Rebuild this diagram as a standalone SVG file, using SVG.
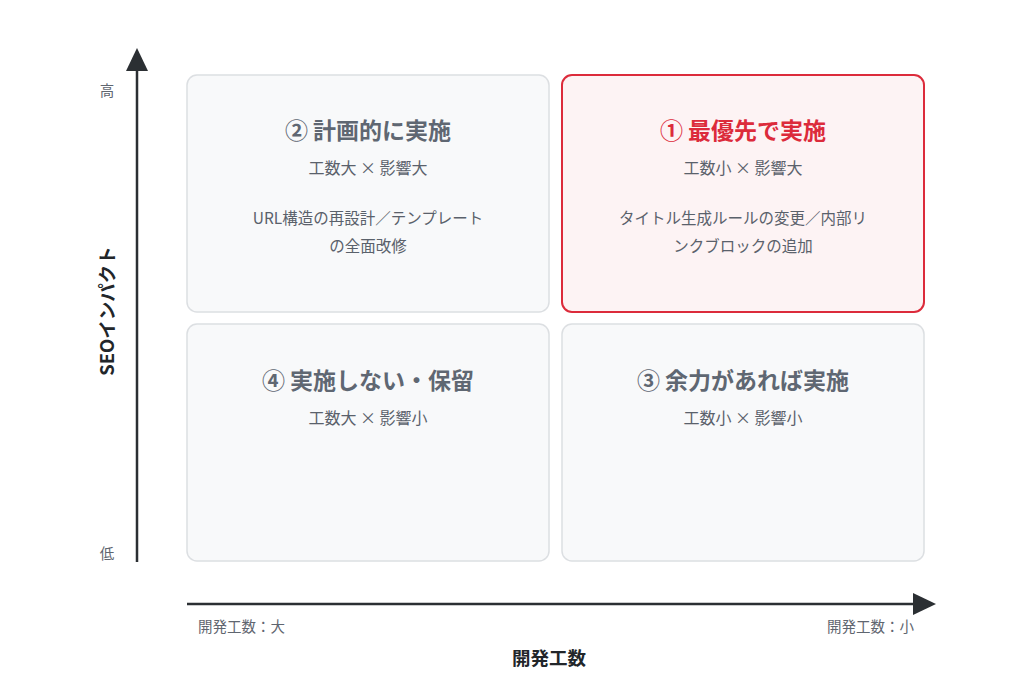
<svg xmlns="http://www.w3.org/2000/svg" width="1024" height="699" viewBox="0 0 1024 699">
<style>
text{font-family:"Noto Sans CJK JP","Noto Sans",sans-serif;}
.box{fill:#f8f9fa;stroke:#dcdfe2;stroke-width:1.5;}
.hot{fill:#fdf3f4;stroke:#dc2b3b;stroke-width:2;}
.t{font-size:23px;font-weight:700;fill:#5f6772;text-anchor:middle;}
.tr{fill:#dc2b3b;}
.s{font-size:16px;fill:#5a616b;text-anchor:middle;}
.d{font-size:15.5px;fill:#5a616b;text-anchor:middle;}
.ax{stroke:#2b2f33;stroke-width:2.5;fill:none;}
.ah{fill:#2b2f33;}
.lab{font-size:14.5px;fill:#5f6670;}
.axt{font-size:18.5px;font-weight:700;fill:#22262a;text-anchor:middle;}
</style>
<rect width="1024" height="699" fill="#ffffff"/>
<g id="q2">
<rect class="box" x="187" y="75" width="362" height="237" rx="10"/>
<text class="t" x="368" y="139">② 計画的に実施</text>
<text class="s" x="368" y="174">工数大 × 影響大</text>
<text class="d" x="368" y="224">URL構造の再設計／テンプレート</text>
<text class="d" x="368" y="252">の全面改修</text>
</g>
<g id="q1">
<rect class="hot" x="562" y="75" width="362" height="237" rx="10"/>
<text class="t tr" x="743" y="139">① 最優先で実施</text>
<text class="s" x="743" y="174">工数小 × 影響大</text>
<text class="d" x="743" y="224">タイトル生成ルールの変更／内部リ</text>
<text class="d" x="743" y="252">ンクブロックの追加</text>
</g>
<g id="q4">
<rect class="box" x="187" y="324" width="362" height="237" rx="10"/>
<text class="t" x="368" y="389">④ 実施しない・保留</text>
<text class="s" x="368" y="424">工数大 × 影響小</text>
</g>
<g id="q3">
<rect class="box" x="562" y="324" width="362" height="237" rx="10"/>
<text class="t" x="743" y="389">③ 余力があれば実施</text>
<text class="s" x="743" y="424">工数小 × 影響小</text>
</g>
<g id="connectors">
<line class="ax" x1="137" y1="562" x2="137" y2="68"/>
<polygon class="ah" points="137,48 126,71 148,71"/>
<line class="ax" x1="187" y1="604" x2="916" y2="604"/>
<polygon class="ah" points="936,604 913,593 913,615"/>
</g>
<g id="labels">
<text class="lab" x="107" y="96" text-anchor="middle">高</text>
<text class="lab" x="107" y="559" text-anchor="middle">低</text>
<text class="axt" transform="translate(114,311) rotate(-90)">SEOインパクト</text>
<text class="lab" x="198" y="632">開発工数：大</text>
<text class="lab" x="914" y="632" text-anchor="end">開発工数：小</text>
<text class="axt" x="549" y="665">開発工数</text>
</g>
</svg>
